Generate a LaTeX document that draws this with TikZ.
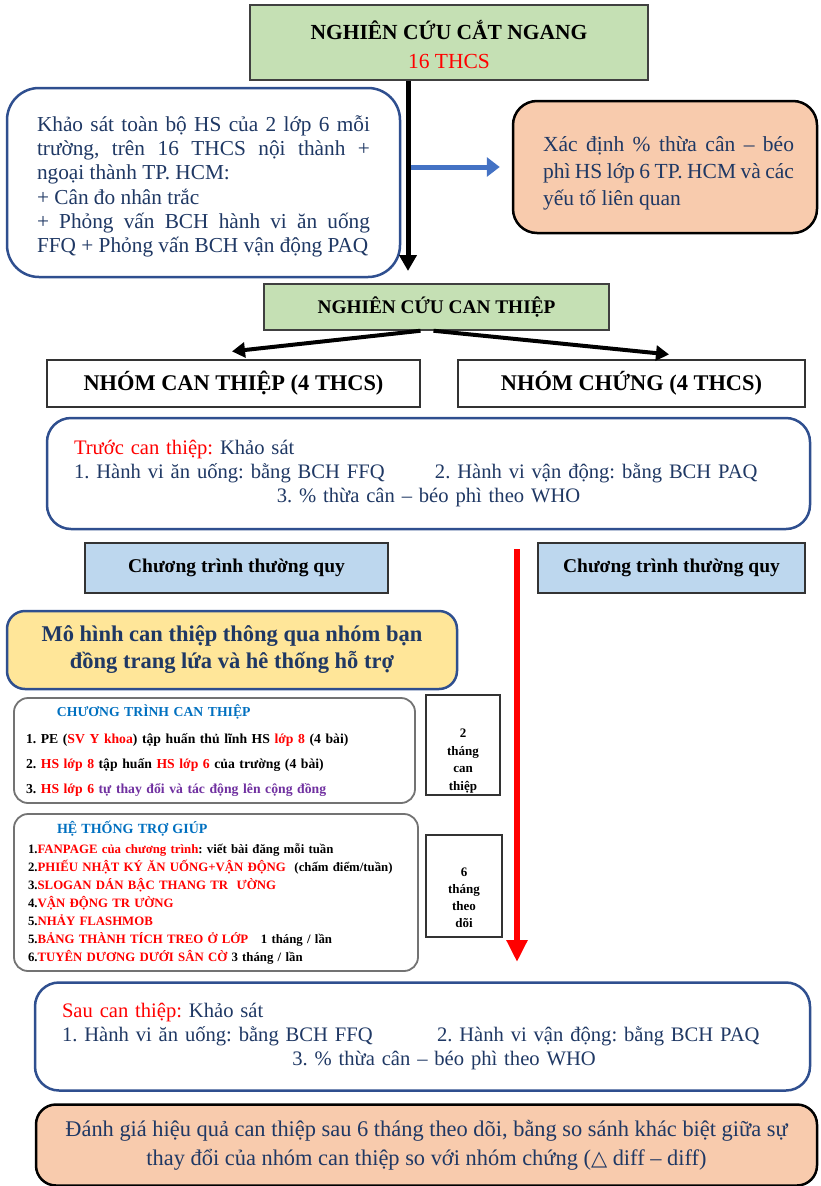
\documentclass[tikz,border=0pt]{standalone}
\usepackage{fontspec}
\setmainfont{Liberation Serif}
\newfontfamily\symfont{DejaVu Sans}
\usetikzlibrary{arrows.meta, positioning}
\definecolor{navy}{HTML}{1F3864}
\definecolor{boxblue}{HTML}{2F4F8F}
\definecolor{lightgreen}{HTML}{C5E0B4}
\definecolor{peach}{HTML}{F8CBAD}
\definecolor{paleblue}{HTML}{BDD7EE}
\definecolor{paleyellow}{HTML}{FFE699}
\definecolor{titleblue}{HTML}{0070C0}
\definecolor{purpletext}{HTML}{7030A0}
\definecolor{arrowblue}{HTML}{4472C4}
\newcommand{\fs}[2]{\fontsize{#1}{#2}\selectfont}
\frenchspacing

\begin{document}
\begin{tikzpicture}[
  x=1pt, y=-1pt,
  greenbox/.style={draw=black!75, line width=1.5pt, fill=lightgreen, inner sep=0pt, align=center},
  plainbox/.style={draw=black!80, line width=1.2pt, fill=white, inner sep=0pt, align=center},
  bluebox/.style={draw=black!80, line width=1.5pt, fill=paleblue, inner sep=0pt, align=center},
  roundbox/.style={draw=boxblue, line width=2.5pt, rounded corners=28pt, fill=white, inner sep=0pt},
  peachbox/.style={draw=black, line width=2.5pt, rounded corners=24pt, fill=peach, inner sep=0pt},
  listbox/.style={draw=black!55, line width=1.8pt, rounded corners=14pt, fill=white, inner sep=0pt},
  thick arrow/.style={line width=4pt, -{Triangle[length=13pt, width=15pt]}},
  >=Stealth
]
  \useasboundingbox (0,0) rectangle (820,1186);

  % cross-sectional part
  \node[greenbox, minimum width=398pt, minimum height=75pt] (cross) at (449,42.5) {};
  \node[align=center, inner sep=0pt, font=\fs{21.5}{29}] (crossTxt) at (449,45)
    {\textbf{NGHIÊN CỨU CẮT NGANG}\\ \textcolor{red}{16 THCS}};
  \node[roundbox, rounded corners=32pt, minimum width=393pt, minimum height=189pt] (survey) at (203.5,182.5) {};
  \node[text width=333pt, align=justify, text=navy, inner sep=0pt, font=\fs{21.3}{24.3}] (surveyTxt) at (203.5,186.5)
    {Khảo sát toàn bộ HS của 2 lớp 6 mỗi\linebreak
     trường, trên 16 THCS nội thành +\linebreak
     ngoại thành TP. HCM:\\
     + Cân đo nhân trắc\\
     + Phỏng vấn BCH hành vi ăn uống\linebreak
     FFQ + Phỏng vấn BCH vận động PAQ};
  \node[peachbox, minimum width=304pt, minimum height=132pt] (aim) at (665,167) {};
  \node[text width=251pt, align=justify, text=navy, inner sep=0pt, font=\fs{21.5}{27}] (aimTxt) at (668.5,173)
    {Xác định \% thừa cân – béo\linebreak
     phì HS lớp 6 TP. HCM và các\linebreak
     yếu tố liên quan};

  % intervention part
  \node[greenbox, minimum width=345pt, minimum height=46pt, font=\fs{19.3}{22}\bfseries] (inter) at (436.5,307)
    {NGHIÊN CỨU CAN THIỆP};
  \node[plainbox, minimum width=373pt, minimum height=47pt, font=\fs{22.4}{26}\bfseries] (grpA) at (233.5,383.5)
    {NHÓM CAN THIỆP (4 THCS)};
  \node[plainbox, minimum width=347pt, minimum height=47pt, font=\fs{22.4}{26}\bfseries] (grpB) at (631.5,383.5)
    {NHÓM CHỨNG (4 THCS)};

  \node[roundbox, rounded corners=24pt, minimum width=763pt, minimum height=111pt,
        text width=709pt, align=left, text=navy, font=\fs{20.6}{24}] (pre) at (428.5,473.5)
    {\textcolor{red}{Trước can thiệp:} Khảo sát\\
     \makebox[361pt][l]{1. Hành vi ăn uống: bằng BCH FFQ}2. Hành vi vận động: bằng BCH PAQ\\
     \makebox[709pt]{3. \% thừa cân – béo phì theo WHO}};

  \node[bluebox, minimum width=303pt, minimum height=50pt, font=\fs{19.5}{22}\bfseries] (routA) at (236.5,568)
    {Chương trình thường quy};
  \node[bluebox, minimum width=267pt, minimum height=50pt, font=\fs{19.5}{22}\bfseries] (routB) at (671.5,568)
    {Chương trình thường quy};

  \node[roundbox, rounded corners=18pt, fill=paleyellow, minimum width=450pt, minimum height=78pt,
        align=center, text=navy, font=\fs{22.5}{27}\bfseries] (model) at (232,650)
    {Mô hình can thiệp thông qua nhóm bạn\\ đồng trang lứa và hê thống hỗ trợ};

  \node[listbox, minimum width=401pt, minimum height=105pt,
        text width=377pt, align=left, font=\fs{13.7}{25}\bfseries] (prog) at (214.5,750.5)
    {\hspace*{31pt}{\fs{13.7}{25}\color{titleblue}CHƯƠNG TRÌNH CAN THIỆP}\\[2pt]
     1. PE (\textcolor{red}{SV Y khoa}) tập huấn thủ lĩnh HS \textcolor{red}{lớp 8} (4 bài)\\
     2. \textcolor{red}{HS lớp 8} tập huấn \textcolor{red}{HS lớp 6} của trường (4 bài)\\
     3. \textcolor{red}{HS lớp 6} \textcolor{purpletext}{tự thay đổi và tác động lên cộng đồng}};
  \node[plainbox, minimum width=74pt, minimum height=100pt] (twoM) at (463,745) {};
  \node[align=center, inner sep=0pt, font=\fs{13}{17.5}\bfseries] (twoMtxt) at (463,761)
    {2\\ tháng\\ can\\ thiệp};

  \node[listbox, minimum width=404pt, minimum height=157pt,
        text width=376pt, align=left, font=\fs{12.8}{18}\bfseries] (support) at (216,892.5)
    {\hspace*{29pt}{\fs{14}{18}\color{titleblue}HỆ THỐNG TRỢ GIÚP}\\[2pt]
     1.\textcolor{red}{FANPAGE của chương trình}: viết bài đăng mỗi tuần\\
     2.\textcolor{red}{PHIẾU NHẬT KÝ ĂN UỐNG+VẬN ĐỘNG}\ \ (chấm điểm/tuần)\\
     3.\textcolor{red}{SLOGAN DÁN BẬC THANG TR\ \ ƯỜNG}\\
     4.\textcolor{red}{VẬN ĐỘNG TR ƯỜNG}\\
     5.\textcolor{red}{NHẢY FLASHMOB}\\
     5.\textcolor{red}{BẢNG THÀNH TÍCH TREO Ở LỚP}\ \ \ 1 tháng / lần\\
     6.\textcolor{red}{TUYÊN DƯƠNG DƯỚI SÂN CỜ} 3 tháng / lần};
  \node[plainbox, minimum width=76pt, minimum height=102pt] (sixM) at (464,886) {};
  \node[align=center, inner sep=0pt, font=\fs{13}{17}\bfseries] (sixMtxt) at (464,898)
    {6\\ tháng\\ theo\\ dõi};

  \node[roundbox, rounded corners=24pt, minimum width=775pt, minimum height=108pt,
        text width=721pt, align=left, text=navy, font=\fs{20.6}{24}] (post) at (422.5,1036.5)
    {\textcolor{red}{Sau can thiệp:} Khảo sát\\
     \makebox[375pt][l]{1. Hành vi ăn uống: bằng BCH FFQ}2. Hành vi vận động: bằng BCH PAQ\\
     \makebox[721pt]{\hspace{43pt}3. \% thừa cân – béo phì theo WHO}};

  \node[peachbox, rounded corners=20pt, minimum width=781pt, minimum height=81pt,
        align=center, text=navy, font=\fs{22.4}{29}] (eval) at (426.5,1145)
    {Đánh giá hiệu quả can thiệp sau 6 tháng theo dõi, bằng so sánh khác biệt giữa sự\\
     thay đổi của nhóm can thiệp so với nhóm chứng ({\symfont\fs{21}{29}△} diff – diff)};

  % connectors
  \coordinate (downStart) at (cross.south -| 408,0);
  \coordinate (downEnd) at (408,271);
  \coordinate (redStart) at (517,549);
  \coordinate (redEnd) at (517,962);
  \draw[line width=5pt, -{Triangle[length=16pt, width=17pt]}] (downStart) -- (downEnd);
  \draw[line width=5pt, arrowblue, -{Triangle[length=13pt, width=19pt]}]
    ([xshift=2.5pt]downStart |- aim.west) -- ([xshift=-12pt]aim.west);
  \draw[thick arrow] ([xshift=-16pt]inter.south) -- ([yshift=8pt]grpA.north -| 232,0);
  \draw[thick arrow] ([xshift=-3pt]inter.south) -- ([yshift=5pt]grpB.north -| 669,0);
  \draw[line width=6pt, red, -{Triangle[length=22pt, width=20pt]}] (redStart) -- (redEnd);
\end{tikzpicture}
\end{document}
